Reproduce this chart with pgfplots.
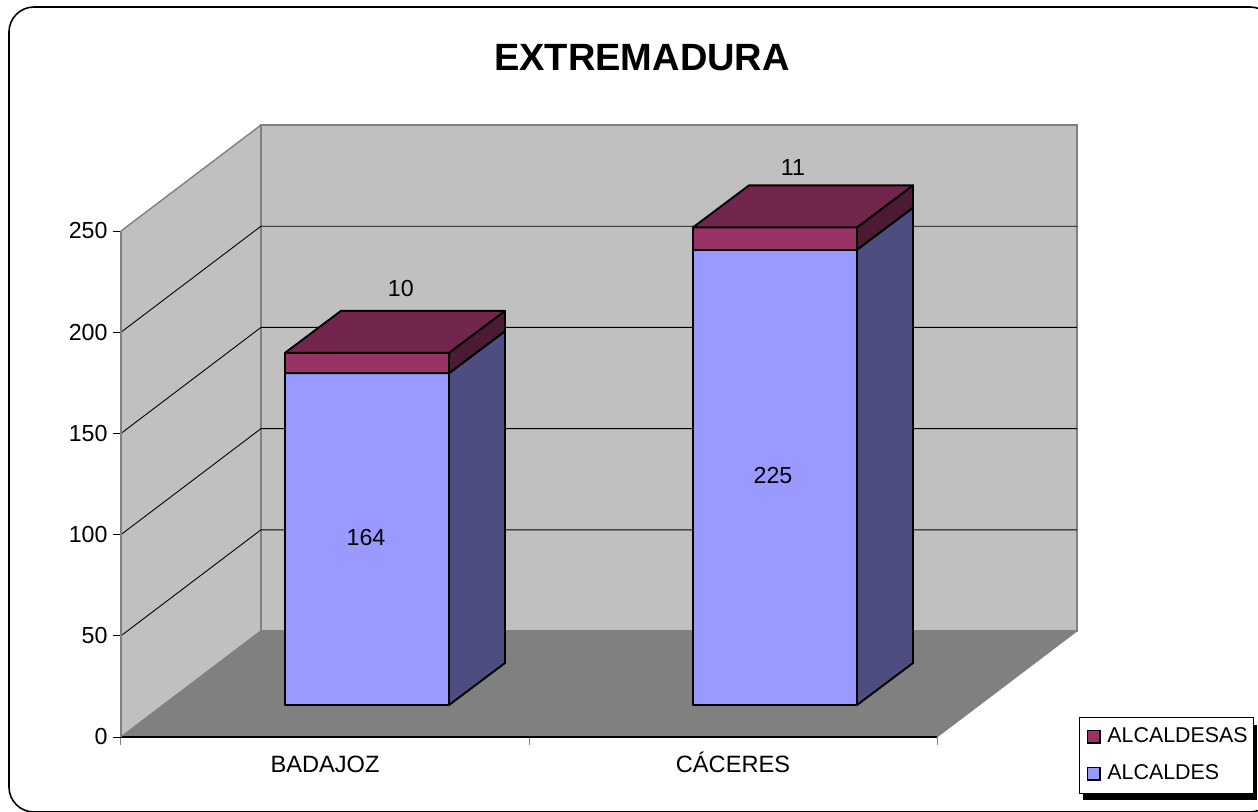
\documentclass[border=0pt]{standalone}
\usepackage{fontspec}
\setmainfont{Liberation Sans}
\usepackage{pgfplots}
\pgfplotsset{compat=1.18}
\definecolor{wall}{HTML}{C0C0C0}
\definecolor{edge}{HTML}{808080}
\definecolor{blueF}{HTML}{9999FF}
\definecolor{blueS}{HTML}{4D4D80}
\definecolor{blueT}{HTML}{737399}
\definecolor{wineF}{HTML}{993366}
\definecolor{wineS}{HTML}{4D1A33}
\definecolor{wineT}{HTML}{73264D}

% oblique offsets, in axis units: 1 category = 408 px, 1 value = 2.024 px
\def\wx{0.3431}\def\wy{52.37}   % wall depth
\def\fx{0.1029}\def\fy{15.81}   % bar front from the axis plane
\def\dx{0.1373}\def\dy{20.75}   % bar depth
\def\hw{0.201}                  % half bar width

% centre, low, high, front, side, top
\newcommand\segment[6]{
  \addplot[forget plot,draw=black,line width=.95pt,line join=round,fill=#4] coordinates {
    ({#1-\hw+\fx},{#2+\fy}) ({#1+\hw+\fx},{#2+\fy}) ({#1+\hw+\fx},{#3+\fy}) ({#1-\hw+\fx},{#3+\fy})} -- cycle;
  \addplot[forget plot,draw=black,line width=.95pt,line join=round,fill=#5] coordinates {
    ({#1+\hw+\fx},{#2+\fy}) ({#1+\hw+\fx+\dx},{#2+\fy+\dy}) ({#1+\hw+\fx+\dx},{#3+\fy+\dy}) ({#1+\hw+\fx},{#3+\fy})} -- cycle;
  \addplot[forget plot,draw=black,line width=.95pt,line join=round,fill=#6] coordinates {
    ({#1-\hw+\fx},{#3+\fy}) ({#1+\hw+\fx},{#3+\fy}) ({#1+\hw+\fx+\dx},{#3+\fy+\dy}) ({#1-\hw+\fx+\dx},{#3+\fy+\dy})} -- cycle;
}
\newcommand\gridline[1]{
  \addplot[forget plot,black,line width=.45pt] coordinates {(0,#1) (\wx,{#1+\wy}) ({2+\wx},{#1+\wy})};
}

\begin{document}
\begin{tikzpicture}
% page frame and legend shadow, in reference pixels
\begin{scope}[x=.5pt,y=-.5pt,shift={(-121,-737)}]
\draw[black,line width=.8pt,rounded corners=12.5pt] (9,7) rectangle (1275,812);
\fill[black] (1083,725) rectangle (1257,800);
\end{scope}
\begin{axis}[
    scale only axis,
    width=408pt,
    height=253pt,
    xmin=0, xmax=2,
    ymin=0, ymax=250,
    clip=false,
    axis on top,
    axis x line=bottom,
    axis y line=left,
    x axis line style={-,black,line width=.6pt},
    y axis line style={-,edge,line width=.7pt},
    tick align=outside,
    xtick={0.5,1.5},
    xticklabels={BADAJOZ,CÁCERES},
    minor xtick={0,1,2},
    major x tick style={draw=none},
    minor x tick style={edge,line width=.5pt},
    minor tick length=4pt,
    ytick={0,50,100,150,200,250},
    y tick style={black,line width=.4pt},
    major tick length=4pt,
    /pgf/number format/assume math mode=true,
    tick label style={font=\fontsize{11.6}{13}\selectfont},
    xticklabel style={font=\fontsize{11.8}{13}\selectfont,text height=8.6pt,text depth=0pt,yshift=-1.4pt},
    yticklabel style={xshift=0.8pt},
    legend style={
        at={(1.174,0.0395)},anchor=north west,
        draw=black,line width=.4pt,fill=white,
        font=\fontsize{10.7}{13}\selectfont,
        row sep=5.5pt,
        inner xsep=2.5pt,inner ysep=3.2pt,
        nodes={inner xsep=.3pt},
        legend cell align=left,
    },
    legend image code/.code={
        \path[draw=none,fill=none] (0pt,0pt) -- (11.2pt,0pt);
        \draw[#1,line width=.7pt] (1.5pt,-3.2pt) rectangle (7.9pt,3.2pt);},
]
% walls and floor
\addplot[draw=edge,line width=.7pt,fill=wall,forget plot] coordinates {(0,0) (\wx,\wy) (\wx,{250+\wy}) (0,250)} -- cycle;
\addplot[draw=edge,line width=.7pt,fill=wall,forget plot] coordinates {(\wx,\wy) ({2+\wx},\wy) ({2+\wx},{250+\wy}) (\wx,{250+\wy})} -- cycle;
\addplot[draw=edge,line width=.5pt,fill=edge,forget plot] coordinates {(0,0) (2,0) ({2+\wx},\wy) (\wx,\wy)} -- cycle;
\gridline{50}
\gridline{100}
\gridline{150}
\gridline{200}
% BADAJOZ 164 + 10, CACERES 225 + 11
\segment{0.5}{0}{164}{blueF}{blueS}{blueT}
\segment{0.5}{164}{174}{wineF}{wineS}{wineT}
\segment{1.5}{0}{225}{blueF}{blueS}{blueT}
\segment{1.5}{225}{236}{wineF}{wineS}{wineT}
\def\lab{\fontsize{11.6}{13}\selectfont}
\node[font=\lab] at (axis cs:0.6005,98.8) {164};
\node[font=\lab] at (axis cs:1.598,129.4) {225};
\node[font=\lab] at (axis cs:0.686,221.8) {10};
\node[font=\lab] at (axis cs:1.647,281.6) {11};
\node[font=\fontsize{19}{22}\bfseries] at (axis cs:1.277,335.5) {EXTREMADURA};
\addlegendimage{fill=wineF,draw=black}
\addlegendentry{ALCALDESAS}
\addlegendimage{fill=blueF,draw=black}
\addlegendentry{ALCALDES}
\end{axis}
\begin{scope}[x=.5pt,y=-.5pt,shift={(-121,-737)}]
\pgfresetboundingbox
\path[use as bounding box] (0,0) rectangle (1258,811);
\end{scope}
\end{tikzpicture}
\end{document}
